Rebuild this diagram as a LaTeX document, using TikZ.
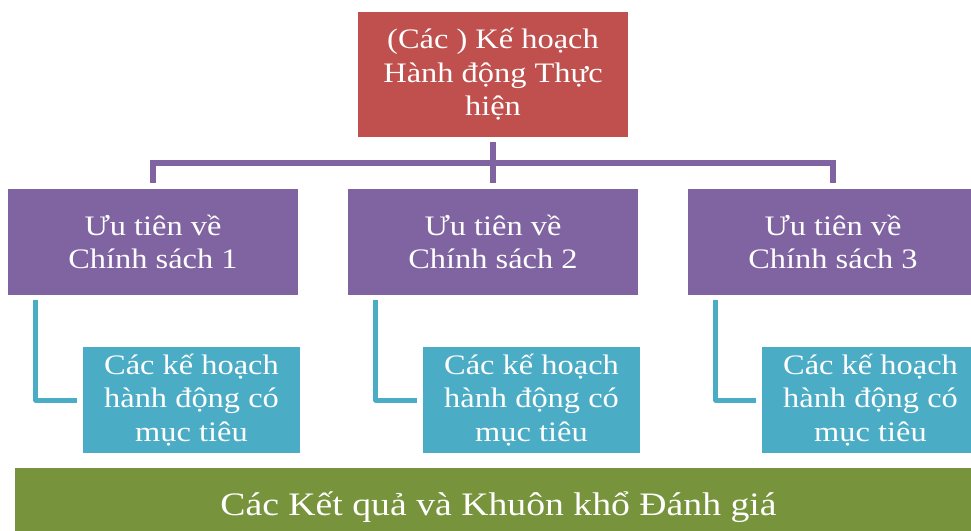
\documentclass[tikz,border=0pt]{standalone}
\usepackage{fontspec}
\setmainfont[FakeStretch=1.15]{Liberation Serif}
\definecolor{cred}{HTML}{C0504D}
\definecolor{cpurple}{HTML}{8064A2}
\definecolor{cteal}{HTML}{4BACC6}
\definecolor{cgreen}{HTML}{77933C}
\tikzset{
  box/.style={rectangle, inner sep=0pt, text=white, align=center, font=\fontsize{28.2}{33.5}\selectfont},
  redbox/.style={box, fill=cred, minimum width=270pt, minimum height=125pt},
  purplebox/.style={box, fill=cpurple, minimum width=290pt, minimum height=106pt},
  tealbox/.style={box, fill=cteal, minimum width=217pt, minimum height=106pt},
  greenbox/.style={box, fill=cgreen, minimum width=967pt, minimum height=78pt, font=\fontsize{32.8}{38}\selectfont},
  pconn/.style={draw=cpurple, line width=6pt},
  tconn/.style={draw=cteal, line width=5pt, line join=round},
}
\begin{document}
\begin{tikzpicture}[x=1pt,y=-1pt]
\useasboundingbox (0,0) rectangle (971,530);
\clip (0,0) rectangle (971,530);
\node[redbox] (top) at (493,74.5) {(Các ) Kế hoạch\\Hành động Thực\\hiện};
\node[purplebox] (p1) at (153,242) {Ưu tiên về\\Chính sách 1};
\node[purplebox] (p2) at (493,242) {Ưu tiên về\\Chính sách 2};
\node[purplebox] (p3) at (833,242) {Ưu tiên về\\Chính sách 3};
\node[tealbox] (t1) at (191.5,400) {Các kế hoạch\\hành động có\\mục tiêu};
\node[tealbox] (t2) at (531.5,400) {Các kế hoạch\\hành động có\\mục tiêu};
\node[tealbox] (t3) at (870.5,400) {Các kế hoạch\\hành động có\\mục tiêu};
\node[greenbox] (g) at (498.5,507) {Các Kết quả và Khuôn khổ Đánh giá};
\coordinate (bar) at (0,163);
\draw[pconn, shorten <=5pt] (top.south) -- (top.south |- bar);
\draw[pconn] ([xshift=-3pt]p1.north |- bar) -- ([xshift=3pt]p3.north |- bar);
\draw[pconn, shorten >=6pt] (p1.north |- bar) -- (p1.north);
\draw[pconn, shorten >=6pt] (p2.north |- bar) -- (p2.north);
\draw[pconn, shorten >=6pt] (p3.north |- bar) -- (p3.north);
\draw[tconn, shorten >=6pt] ([xshift=28pt,yshift=-5pt]p1.south west) |- (t1.west);
\draw[tconn, shorten >=6pt] ([xshift=28pt,yshift=-5pt]p2.south west) |- (t2.west);
\draw[tconn, shorten >=6pt] ([xshift=28pt,yshift=-5pt]p3.south west) |- (t3.west);
\end{tikzpicture}
\end{document}
